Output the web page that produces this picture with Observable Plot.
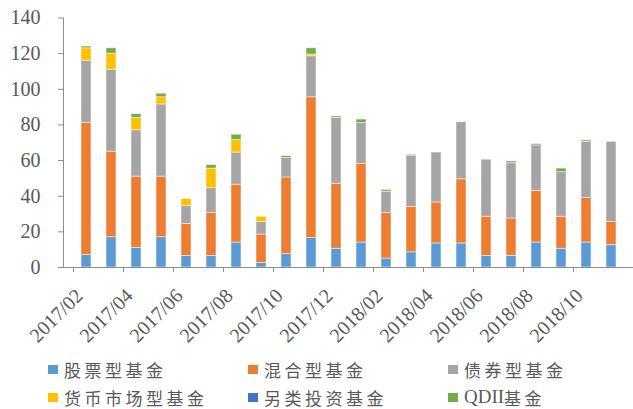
<!DOCTYPE html>
<html>
<head>
<meta charset="utf-8">
<script src="https://cdn.jsdelivr.net/npm/d3@7"></script>
<script src="https://cdn.jsdelivr.net/npm/@observablehq/plot@0.6"></script>
<style>
  body { margin: 0; background: #fff; }
  #wrap { position: relative; width: 633px; height: 409px; overflow: hidden; }
  #chart svg text { font-family: "Liberation Serif", "Times New Roman", serif; }
  .leg { position: absolute; display: flex; align-items: center; font-family: "Noto Sans CJK SC", "Liberation Serif", serif; font-size: 17px; letter-spacing: 3.5px; color: #595959; white-space: nowrap; }
  .leg i { display: inline-block; width: 10px; height: 9px; margin-right: 6px; }
  .leg .q { font-family: "Liberation Serif", serif; font-size: 19px; letter-spacing: 0; }
</style>
</head>
<body>
<div id="wrap"><div id="chart"></div></div>
<script>
const months = ["2017/02","2017/03","2017/04","2017/05","2017/06","2017/07","2017/08","2017/09","2017/10","2017/11","2017/12","2018/01","2018/02","2018/03","2018/04","2018/05","2018/06","2018/07","2018/08","2018/09","2018/10","2018/11"];
const seriesNames = ["股票型基金","混合型基金","债券型基金","货币市场型基金","另类投资基金","QDII基金"];
const seriesColors = ["#5B9BD5","#ED7D31","#A5A5A5","#FFC000","#4472C4","#70AD47"];
const stockFund = [7,17,11,17,6.5,6.5,14,2.5,7.5,16.5,10.5,14,5,8.5,13.5,13.5,6.5,6.5,14,10.5,14,12.5];
const mixedFund = [74,48,40,34,18,24,32.5,16,43,79,36.5,44,25.5,25.5,23,36,22,21,29,18,25,13];
const bondFund = [35,46,26,40.5,10,14,18,7,11,23,37,23,12,28.5,28,32,32,31,25.5,25,31.5,45];
const moneyFund = [7,9,7,4,4,11,7,3,0,1,0,0,0,0,0,0,0,0,0,0,0,0];
const altFund = [0,0,0,0,0,0,0,0,0,0,0,0,0,0,0,0,0,0,0,0,0,0];
const qdiiFund = [1,3,2,2,0,2,3,0,1,3.5,0.8,2,1,0.7,0,0,0,1,0.8,2,0.8,0];
const yTicks = [0,20,40,60,80,100,120,140];
const xLabelMonths = months.filter((m, i) => i % 2 === 0);

const allSeries = [stockFund, mixedFund, bondFund, moneyFund, altFund, qdiiFund];
const data = [];
months.forEach((m, i) => {
  allSeries.forEach((s, k) => data.push({month: m, series: seriesNames[k], value: s[i]}));
});

const W = 633, H = 355, mL = 63, mR = 0;
const step = (W - mL - mR) / months.length;
const serif = "Liberation Serif";

const chart = Plot.plot({
  width: W, height: H,
  marginLeft: mL, marginRight: mR, marginTop: 17.5, marginBottom: H - 267,
  style: {fontFamily: serif, background: "transparent", overflow: "visible"},
  x: {domain: months, padding: 0.6, align: 0.5, axis: null, label: null},
  y: {domain: [0, 140], axis: null, label: null},
  color: {domain: seriesNames, range: seriesColors},
  marks: [
    Plot.barY(data, {x: "month", y: "value", fill: "series", z: "series", order: null, stroke: "#fff", strokeWidth: 0.8, strokeOpacity: 0.6}),
    Plot.frame({anchor: "left", stroke: "#8c8c8c"}),
    Plot.frame({anchor: "bottom", stroke: "#8c8c8c"}),
    Plot.axisY({ticks: yTicks, tickSize: 5, tickPadding: 18, stroke: "#8c8c8c", fontSize: 20, fontFamily: serif, fill: "#595959", label: null}),
    Plot.axisX({ticks: xLabelMonths, tickSize: 5, tickFormat: () => "", dx: -step / 2, stroke: "#8c8c8c", label: null}),
    Plot.axisX({ticks: xLabelMonths, tickSize: 0, tickRotate: -45, fontSize: 20, fontFamily: serif, fill: "#595959", tickPadding: 25, dx: -7, label: null})
  ]
});
chart.style.position = "absolute";
chart.style.left = "0px";
chart.style.top = "0px";
document.getElementById("chart").appendChild(chart);

const legendPos = [[48,369],[248,369],[448,369],[48,397],[248,397],[448,397]];
const wrap = document.getElementById("wrap");
seriesNames.forEach((name, k) => {
  const d = document.createElement("div");
  d.className = "leg";
  d.style.left = legendPos[k][0] + "px";
  d.style.top = (legendPos[k][1] - 12) + "px";
  d.style.height = "24px";
  const sw = document.createElement("i");
  sw.style.background = seriesColors[k];
  d.appendChild(sw);
  if (name.startsWith("QDII")) {
    const q = document.createElement("span");
    q.className = "q"; q.textContent = "QDII";
    d.appendChild(q);
    const r = document.createElement("span");
    r.textContent = name.slice(4);
    d.appendChild(r);
  } else {
    const t = document.createElement("span");
    t.textContent = name;
    d.appendChild(t);
  }
  wrap.appendChild(d);
});
</script>
</body>
</html>
